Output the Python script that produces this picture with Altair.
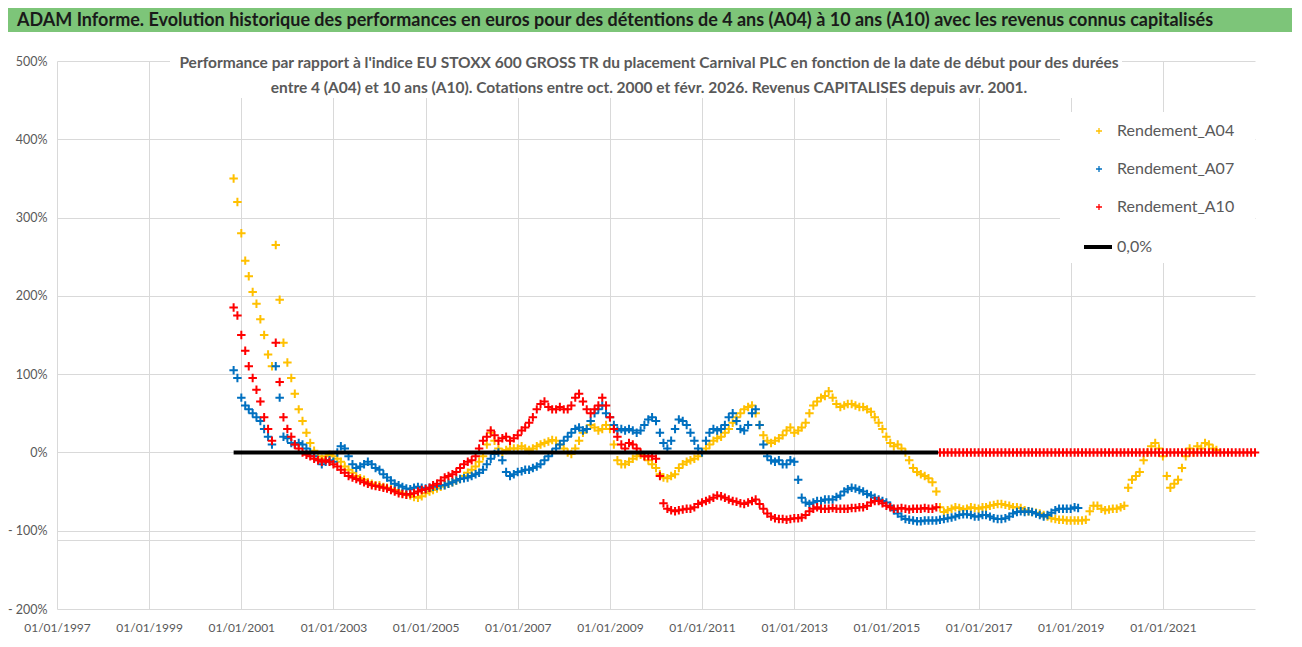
import altair as alt
import pandas as pd

PLUS = "M-1,0H1M0,-1V1"

series_names = ["Rendement_A04", "Rendement_A07", "Rendement_A10"]
series_colors = ["#FFC000", "#0070C0", "#FF0000"]
zero_name = "0,0%"

title_text = ("ADAM Informe. Evolution historique des performances en euros pour des "
              "détentions de 4 ans (A04) à 10 ans (A10) avec les revenus connus capitalisés")
subtitle_lines = [
    "Performance par rapport à l'indice EU STOXX 600 GROSS TR  du placement Carnival PLC en fonction de la date de début pour des durées",
    "entre 4 (A04) et 10 ans (A10). Cotations entre oct. 2000 et févr. 2026. Revenus CAPITALISES depuis avr. 2001.",
]

# monthly readings (%), first value = Nov 2000
a04_start = "2000-11-01"
a04_values = [
    350, 320,
    280, 245, 225, 205, 190, 170, 150, 125, 110, 265, 195, 140,
    115, 95, 75, 55, 40, 25, 12, 2, -5, -8, -5, -3,
    -5, -8, -12, -18, -22, -26, -30, -33, -35, -38, -40, -42,
    -42, -44, -45, -47, -48, -50, -52, -54, -55, -57, -58, -56,
    -52, -50, -48, -46, -44, -42, -40, -38, -36, -34, -30, -26,
    -22, -18, -12, -5, 10, 25, 15, 5, 0, 3, 5, 5,
    5, 8, 5, 3, 5, 8, 10, 12, 14, 16, 15, 10,
    5, 0, -2, 5, 15, 25, 30, 35, 32, 28, 30, 35,
    30, 10, -10, -15, -15, -12, -8, -5, -3, -5, -10, -15,
    -20, -28, -32, -33, -30, -28, -20, -15, -12, -10, -8, -5,
    0, 5, 10, 15, 18, 20, 25, 30, 38, 45, 50, 55,
    58, 60, 50, 35, 22, 15, 12, 15, 18, 22, 28, 32,
    25, 28, 32, 38, 50, 60, 65, 70, 72, 78, 70, 62,
    58, 60, 62, 62, 60, 58, 58, 55, 52, 45, 38, 30,
    20, 12, 8, 10, 5, 0, -10, -20, -25, -28, -30, -33,
    -38, -50, -70, -76, -74, -72, -70, -71, -73, -72, -70, -71,
    -72, -70, -70, -68, -67, -66, -66, -67, -68, -70, -70, -71,
    -74, -75, -76, -77, -78, -80, -82, -84, -85, -86, -86, -87,
    -87, -87, -87, -87, -86, -75, -68, -68, -72, -74, -73, -72,
    -72, -70, -68, -45, -35, -30, -25, -10, 0, 8, 12, 5,
    -5, -30, -45, -40, -35, -20, -5, 5, 0, 8, 5, 12,
    10, 5, 3,
]

a07_start = "2000-11-01"
a07_values = [
    105, 95,
    70, 60, 55, 50, 45, 40, 30, 20, 10, 110, 70, 20,
    18, 12, 10, 12, 10, 5, 0, -5, -10, -15, -12, -10,
    -12, 0, 8, 5, -5, -15, -20, -18, -15, -12, -15, -20,
    -22, -28, -32, -36, -40, -42, -44, -46, -47, -45, -44, -45,
    -46, -45, -44, -43, -42, -42, -40, -38, -36, -34, -33, -32,
    -30, -28, -26, -22, -15, -8, -2, 0, -10, -25, -30, -28,
    -25, -24, -22, -22, -20, -18, -15, -10, -5, 0, 5, 10,
    15, 20, 25, 30, 32, 28, 30, 40, 50, 55, 60, 50,
    45, 35, 28, 30, 28, 30, 28, 25, 28, 35, 42, 45,
    40, 25, 12, 5, 15, 30, 42, 40, 35, 25, 15, 5,
    0, 15, 25, 30, 28, 30, 35, 45, 50, 40, 30, 28,
    35, 50, 55, 35, 10, -5, -10, -12, -10, -15, -15, -10,
    -12, -35, -58, -64, -66, -64, -62, -62, -60, -60, -60, -57,
    -55, -50, -47, -45, -46, -48, -50, -53, -55, -58, -60, -62,
    -64, -68, -74, -78, -82, -85, -86, -87, -88, -88, -87, -87,
    -87, -87, -86, -85, -84, -83, -82, -80, -79, -79, -80, -82,
    -82, -80, -80, -82, -84, -85, -85, -84, -82, -78, -76, -75,
    -76, -75, -76, -78, -80, -82, -80, -77, -74, -72, -72, -72,
    -72, -70, -71,
]

a10_start = "2000-11-01"
a10_values = [
    185, 175,
    150, 130, 110, 95, 80, 65, 45, 30, 15, 140, 90, 45,
    30, 20, 10, 5, 0, -3, -5, -8, -10, -12, -10, -12,
    -15, -18, -22, -26, -30, -32, -34, -36, -38, -40, -42, -43,
    -44, -45, -46, -48, -50, -52, -53, -54, -53, -52, -50, -48,
    -47, -45, -42, -40, -36, -32, -30, -28, -25, -20, -15, -12,
    -10, -5, 5, 15, 20, 28, 22, 15, 18, 20, 15, 18,
    22, 28, 32, 38, 45, 55, 62, 65, 58, 55, 55, 58,
    55, 55, 60, 70, 75, 65, 55, 50, 55, 60, 70, 60,
    45, 30, 20, 10, 5, 12, 10, 5, 0, -5, -5, -5,
    -8, -30, -65, -72, -74, -75, -74, -73, -72, -72, -70, -66,
    -64, -62, -60, -58, -55, -56, -58, -60, -62, -63, -65, -66,
    -64, -62, -60, -66, -72, -78, -82, -84, -85, -85, -86, -85,
    -84, -84, -83, -80, -75, -72, -70, -72, -72, -72, -71, -72,
    -72, -72, -72, -71, -71, -70, -70, -68, -64, -62, -62, -65,
    -68, -70, -72, -72, -71, -72, -73, -72, -72, -72, -71, -72,
    -72, -70,
    # from Mar 2016 the A10 series is at 0
    0, 0, 0, 0, 0, 0, 0, 0, 0, 0,
    0, 0, 0, 0, 0, 0, 0, 0, 0, 0, 0, 0,
    0, 0, 0, 0, 0, 0, 0, 0, 0, 0, 0, 0,
    0, 0, 0, 0, 0, 0, 0, 0, 0, 0, 0, 0,
    0, 0, 0, 0, 0, 0, 0, 0, 0, 0, 0, 0,
    0, 0, 0, 0, 0, 0, 0, 0, 0, 0, 0, 0,
    0, 0, 0, 0, 0, 0, 0, 0, 0, 0, 0, 0,
    0,
]

zero_line_dates = ["2000-11-01T00:00:00", "2016-02-15T00:00:00"]
zero_line_values = [0, 0]

extra_hline_values = [-112.5]
y_domain = [-200, 500]
y_ticks = [-200, -100, 0, 100, 200, 300, 400, 500]
x_tick_years = list(range(1997, 2022, 2))


def monthly(name, start, values):
    return pd.DataFrame({
        "date": pd.date_range(start, periods=len(values), freq="MS").strftime("%Y-%m-%dT00:00:00"),
        "value": values,
        "series": name,
    })


points_df = pd.concat([
    monthly(series_names[0], a04_start, a04_values),
    monthly(series_names[1], a07_start, a07_values),
    monthly(series_names[2], a10_start, a10_values),
], ignore_index=True)

zero_df = pd.DataFrame({"date": zero_line_dates, "value": zero_line_values, "series": zero_name})
one = pd.DataFrame({"k": [0]})

FONT = "Lato"
GREY = "#595959"

x_scale = alt.Scale(domain=[alt.DateTime(year=1997, month=1, date=1),
                            alt.DateTime(year=2023, month=1, date=1)])
y_scale = alt.Scale(domain=y_domain, nice=False)

x_axis = alt.Axis(
    values=[alt.DateTime(year=y, month=1, date=1) for y in x_tick_years],
    labelExpr="timeFormat(datum.value, '%d/%m/%Y')",
    title=None, domain=False, ticks=False, grid=True, gridColor="#d9d9d9",
    labelFont=FONT, labelFontSize=12, labelColor=GREY, labelPadding=13,
    labelOverlap=False, labelFlush=False, labelBound=False,
)
y_axis = alt.Axis(
    values=y_ticks,
    labelExpr="datum.value < 0 ? '- ' + abs(datum.value) + '%' : datum.value + '%'",
    title=None, domain=False, ticks=False, grid=True, gridColor="#d9d9d9",
    labelFont=FONT, labelFontSize=12.5, labelColor=GREY, labelPadding=10,
    labelFlush=False,
)

X = alt.X("date:T", scale=x_scale, axis=x_axis)
Y = alt.Y("value:Q", scale=y_scale, axis=y_axis)

extra_rule = alt.Chart(pd.DataFrame({"value": extra_hline_values})).mark_rule(
    color="#d9d9d9", strokeWidth=1
).encode(y=Y)

sub_box = alt.Chart(one).mark_rect(color="white").encode(
    x=alt.value(113), x2=alt.value(1065), y=alt.value(-13), y2=alt.value(37))
legend_box = alt.Chart(one).mark_rect(color="white").encode(
    x=alt.value(1003), x2=alt.value(1198), y=alt.value(51), y2=alt.value(202))

pts = alt.Chart(points_df).mark_point(
    shape=PLUS, filled=False, size=72, strokeWidth=2, opacity=1
).encode(
    x=X,
    y=Y,
    color=alt.Color(
        "series:N",
        scale=alt.Scale(domain=series_names, range=series_colors),
        legend=alt.Legend(
            title=None, orient="none", legendX=1034, legendY=62,
            symbolType=PLUS, symbolSize=36, symbolStrokeWidth=1.3,
            labelFont=FONT, labelFontSize=16, labelColor=GREY,
            labelOffset=10, rowPadding=22, padding=0,
        ),
    ),
)

zero_line = alt.Chart(zero_df).mark_line(color="black", strokeWidth=4).encode(
    x=X,
    y=Y,
    strokeDash=alt.StrokeDash(
        "series:N",
        scale=alt.Scale(domain=[zero_name], range=[[1, 0]]),
        legend=alt.Legend(
            title=None, orient="none", legendX=1025, legendY=170,
            symbolType="stroke", symbolSize=784, symbolStrokeWidth=4,
            symbolStrokeColor="black",
            labelFont=FONT, labelFontSize=16, labelColor=GREY,
            labelOffset=3, padding=0,
        ),
    ),
)

title_band = alt.Chart(one).mark_rect(color="#7DC579").encode(
    x=alt.value(-49), x2=alt.value(1237), y=alt.value(-53), y2=alt.value(-29))
title_mark = alt.Chart(one).mark_text(
    align="left", baseline="alphabetic", font=FONT, fontSize=18, fontWeight="bold",
    color="#1a1a1a"
).encode(x=alt.value(-40), y=alt.value(-35), text=alt.value(title_text))
subtitle_mark = alt.Chart(one).mark_text(
    align="center", baseline="alphabetic", font=FONT, fontSize=15.5, fontWeight="bold",
    color=GREY, lineHeight=25
).encode(x=alt.value(592), y=alt.value(7), text=alt.value(subtitle_lines))

chart = alt.layer(
    extra_rule, sub_box, legend_box, pts, zero_line, title_band, title_mark, subtitle_mark
).properties(
    width=1198, height=548,
    autosize=alt.AutoSizeParams(type="none"),
    padding={"left": 49, "top": 53, "right": 37, "bottom": 28},
).configure_view(stroke=None)

chart.save("out.html", embed_options={"renderer": "svg", "actions": False})
